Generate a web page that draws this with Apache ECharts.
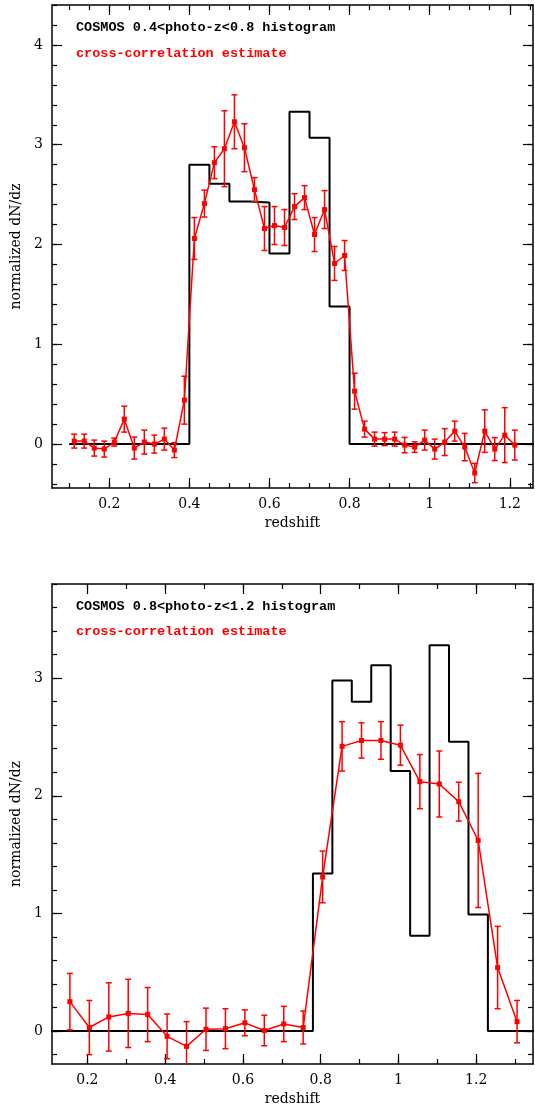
<!DOCTYPE html>
<html>
<head>
<meta charset="utf-8">
<script src="https://cdn.jsdelivr.net/npm/echarts@6/dist/echarts.min.js"></script>
<style>
  html, body { margin: 0; padding: 0; background: #ffffff; }
  #chart { width: 535px; height: 1107px; }
</style>
</head>
<body>
<div id="chart"></div>
<script>
// ---- Upper panel: COSMOS 0.4 < photo-z < 0.8 ----
const upperHistEdges  = [0.40, 0.45, 0.50, 0.55, 0.60, 0.65, 0.70, 0.75, 0.80];
const upperHistValues = [2.80, 2.61, 2.43, 2.42, 1.91, 3.33, 3.07, 1.38];
const upperHistSpan   = [0.10, 1.30];

const upperZ = [0.1125, 0.1375, 0.1625, 0.1875, 0.2125, 0.2375, 0.2625, 0.2875, 0.3125, 0.3375,
                0.3625, 0.3875, 0.4125, 0.4375, 0.4625, 0.4875, 0.5125, 0.5375, 0.5625, 0.5875,
                0.6125, 0.6375, 0.6625, 0.6875, 0.7125, 0.7375, 0.7625, 0.7875, 0.8125, 0.8375,
                0.8625, 0.8875, 0.9125, 0.9375, 0.9625, 0.9875, 1.0125, 1.0375, 1.0625, 1.0875,
                1.1125, 1.1375, 1.1625, 1.1875, 1.2125];
const upperDens = [0.03, 0.03, -0.04, -0.05, 0.02, 0.25, -0.04, 0.02, 0.00, 0.05,
                   -0.06, 0.44, 2.06, 2.41, 2.82, 2.96, 3.23, 2.97, 2.55, 2.16,
                   2.19, 2.17, 2.38, 2.47, 2.10, 2.35, 1.81, 1.89, 0.53, 0.15,
                   0.05, 0.05, 0.05, -0.01, -0.03, 0.04, -0.05, 0.02, 0.13, -0.03,
                   -0.29, 0.13, -0.05, 0.09, -0.01];
const upperErr = [0.07, 0.07, 0.08, 0.08, 0.04, 0.13, 0.11, 0.12, 0.09, 0.11,
                  0.075, 0.24, 0.21, 0.135, 0.16, 0.38, 0.27, 0.24, 0.12, 0.22,
                  0.19, 0.18, 0.13, 0.12, 0.17, 0.19, 0.17, 0.15, 0.18, 0.08,
                  0.07, 0.065, 0.07, 0.077, 0.053, 0.10, 0.10, 0.135, 0.10, 0.137,
                  0.097, 0.213, 0.115, 0.275, 0.15];

const upperXRange  = [0.057, 1.258];
const upperYRange  = [-0.44, 4.40];
const upperXMajor  = [0.2, 0.4, 0.6, 0.8, 1, 1.2];
const upperXMinor  = [0.10, 0.15, 0.20, 0.25, 0.30, 0.35, 0.40, 0.45, 0.50, 0.55, 0.60, 0.65,
                      0.70, 0.75, 0.80, 0.85, 0.90, 0.95, 1.00, 1.05, 1.10, 1.15, 1.20, 1.25];
const upperYMajor  = [0, 1, 2, 3, 4];
const upperYMinor  = [-0.4, -0.2, 0, 0.2, 0.4, 0.6, 0.8, 1.0, 1.2, 1.4, 1.6, 1.8, 2.0, 2.2,
                      2.4, 2.6, 2.8, 3.0, 3.2, 3.4, 3.6, 3.8, 4.0, 4.2, 4.4];
const upperLabel   = 'COSMOS 0.4<photo-z<0.8 histogram';

// ---- Lower panel: COSMOS 0.8 < photo-z < 1.2 ----
const lowerHistEdges  = [0.78, 0.83, 0.88, 0.93, 0.98, 1.03, 1.08, 1.13, 1.18, 1.23];
const lowerHistValues = [1.34, 2.98, 2.80, 3.11, 2.21, 0.81, 3.28, 2.46, 0.99];
const lowerHistSpan   = [0.10, 1.40];

const lowerZ = [0.155, 0.205, 0.255, 0.305, 0.355, 0.405, 0.455, 0.505, 0.555, 0.605, 0.655, 0.705,
                0.755, 0.805, 0.855, 0.905, 0.955, 1.005, 1.055, 1.105, 1.155, 1.205, 1.255, 1.305];
const lowerDens = [0.25, 0.03, 0.12, 0.15, 0.14, -0.045, -0.13, 0.015, 0.02, 0.07, 0.005, 0.06,
                   0.03, 1.31, 2.42, 2.47, 2.47, 2.43, 2.12, 2.10, 1.95, 1.62, 0.54, 0.08];
const lowerErr  = [0.24, 0.23, 0.29, 0.29, 0.23, 0.19, 0.21, 0.18, 0.17, 0.11, 0.13, 0.15,
                   0.14, 0.22, 0.21, 0.15, 0.16, 0.17, 0.23, 0.28, 0.165, 0.57, 0.35, 0.18];

const lowerXRange  = [0.109, 1.346];
const lowerYRange  = [-0.28, 3.80];
const lowerXMajor  = [0.2, 0.4, 0.6, 0.8, 1, 1.2];
const lowerXMinor  = [0.2, 0.3, 0.4, 0.5, 0.6, 0.7, 0.8, 0.9, 1.0, 1.1, 1.2, 1.3];
const lowerYMajor  = [0, 1, 2, 3];
const lowerYMinor  = [-0.2, 0, 0.2, 0.4, 0.6, 0.8, 1.0, 1.2, 1.4, 1.6, 1.8, 2.0, 2.2, 2.4,
                      2.6, 2.8, 3.0, 3.2, 3.4, 3.6, 3.8];
const lowerLabel   = 'COSMOS 0.8<photo-z<1.2 histogram';

const estimateLabel = 'cross-correlation estimate';
const xTitle = 'redshift';
const yTitle = 'normalized dN/dz';

// ---- styling ----
const RED = '#ff0000';
const INK = '#000000';
const SERIF = '"DejaVu Serif", "Liberation Serif", serif';
const MONO = '"Liberation Mono", "DejaVu Sans Mono", monospace';
const FRAME_W = 1.5;
const MAJOR_LEN = 10;
const MINOR_LEN = 5;

const panels = [
  { top: 5,   histEdges: upperHistEdges, histValues: upperHistValues, histSpan: upperHistSpan,
    z: upperZ, dens: upperDens, err: upperErr, xRange: upperXRange, yRange: upperYRange,
    xMajor: upperXMajor, xMinor: upperXMinor, yMajor: upperYMajor, yMinor: upperYMinor,
    label: upperLabel, labelY: [28, 54] },
  { top: 584, histEdges: lowerHistEdges, histValues: lowerHistValues, histSpan: lowerHistSpan,
    z: lowerZ, dens: lowerDens, err: lowerErr, xRange: lowerXRange, yRange: lowerYRange,
    xMajor: lowerXMajor, xMinor: lowerXMinor, yMajor: lowerYMajor, yMinor: lowerYMinor,
    label: lowerLabel, labelY: [607, 632] }
];

// Step outline of a histogram: zero level, then each bin as a flat top.
function histogramOutline(edges, values, span) {
  const pts = [[span[0], 0], [edges[0], 0]];
  values.forEach((v, i) => {
    pts.push([edges[i], v]);
    pts.push([edges[i + 1], v]);
  });
  pts.push([edges[edges.length - 1], 0]);
  pts.push([span[1], 0]);
  return pts;
}

const grids = [], xAxes = [], yAxes = [], series = [], graphics = [];

panels.forEach((p, gi) => {
  grids.push({ left: 52, top: p.top, width: 481, height: 483, containLabel: false });

  const lineStyle = { color: INK, width: FRAME_W };
  const tickStyle = { color: INK, width: 1.2 };
  const xBase = { gridIndex: gi, type: 'value', min: p.xRange[0], max: p.xRange[1],
                  splitLine: { show: false } };
  const yBase = { gridIndex: gi, type: 'value', min: p.yRange[0], max: p.yRange[1],
                  splitLine: { show: false } };
  const xStart = xAxes.length, yStart = yAxes.length;

  // bottom: frame, major ticks, labels, title
  xAxes.push(Object.assign({}, xBase, {
    position: 'bottom',
    axisLine: { show: true, onZero: false, lineStyle },
    axisTick: { show: true, inside: true, length: MAJOR_LEN, customValues: p.xMajor, lineStyle: tickStyle },
    axisLabel: { show: true, customValues: p.xMajor, margin: 9, color: INK,
                 fontFamily: SERIF, fontSize: 14 },
    name: xTitle, nameLocation: 'middle', nameGap: 28,
    nameTextStyle: { color: INK, fontFamily: SERIF, fontSize: 14 }
  }));
  // top: frame, major ticks
  xAxes.push(Object.assign({}, xBase, {
    position: 'top',
    axisLine: { show: true, onZero: false, lineStyle },
    axisTick: { show: true, inside: true, length: MAJOR_LEN, customValues: p.xMajor, lineStyle: tickStyle },
    axisLabel: { show: false }
  }));
  // minor ticks, bottom and top
  ['bottom', 'top'].forEach(pos => xAxes.push(Object.assign({}, xBase, {
    position: pos,
    axisLine: { show: false, onZero: false },
    axisTick: { show: true, inside: true, length: MINOR_LEN, customValues: p.xMinor, lineStyle: tickStyle },
    axisLabel: { show: false }
  })));

  // left: frame, major ticks, labels, title
  yAxes.push(Object.assign({}, yBase, {
    position: 'left',
    axisLine: { show: true, onZero: false, lineStyle },
    axisTick: { show: true, inside: true, length: MAJOR_LEN, customValues: p.yMajor, lineStyle: tickStyle },
    axisLabel: { show: true, customValues: p.yMajor, margin: 9, color: INK,
                 fontFamily: SERIF, fontSize: 14 },
    name: yTitle, nameLocation: 'middle', nameGap: 27,
    nameTextStyle: { color: INK, fontFamily: SERIF, fontSize: 14 }
  }));
  // right: frame, major ticks
  yAxes.push(Object.assign({}, yBase, {
    position: 'right',
    axisLine: { show: true, onZero: false, lineStyle },
    axisTick: { show: true, inside: true, length: MAJOR_LEN, customValues: p.yMajor, lineStyle: tickStyle },
    axisLabel: { show: false }
  }));
  ['left', 'right'].forEach(pos => yAxes.push(Object.assign({}, yBase, {
    position: pos,
    axisLine: { show: false, onZero: false },
    axisTick: { show: true, inside: true, length: MINOR_LEN, customValues: p.yMinor, lineStyle: tickStyle },
    axisLabel: { show: false }
  })));

  // photo-z histogram
  series.push({
    type: 'line', xAxisIndex: xStart, yAxisIndex: yStart,
    data: histogramOutline(p.histEdges, p.histValues, p.histSpan),
    symbol: 'none', clip: true, z: 2,
    lineStyle: { color: INK, width: 2 }, silent: true
  });

  // cross-correlation error bars
  series.push({
    type: 'custom', xAxisIndex: xStart, yAxisIndex: yStart, clip: true, z: 3, silent: true,
    data: p.z.map((z, i) => [z, p.dens[i] - p.err[i], p.dens[i] + p.err[i]]),
    encode: { x: 0, y: [1, 2] },
    renderItem(params, api) {
      const lo = api.coord([api.value(0), api.value(1)]);
      const hi = api.coord([api.value(0), api.value(2)]);
      const w = 3;
      const style = { stroke: RED, lineWidth: 1.5, fill: null };
      return { type: 'group', children: [
        { type: 'line', shape: { x1: lo[0], y1: lo[1], x2: hi[0], y2: hi[1] }, style },
        { type: 'line', shape: { x1: lo[0] - w, y1: lo[1], x2: lo[0] + w, y2: lo[1] }, style },
        { type: 'line', shape: { x1: hi[0] - w, y1: hi[1], x2: hi[0] + w, y2: hi[1] }, style }
      ] };
    }
  });

  // cross-correlation estimate
  series.push({
    type: 'line', xAxisIndex: xStart, yAxisIndex: yStart,
    data: p.z.map((z, i) => [z, p.dens[i]]),
    symbol: 'rect', symbolSize: 5, clip: true, z: 4, silent: true,
    itemStyle: { color: RED }, lineStyle: { color: RED, width: 1.5 }
  });

  // in-panel legend text
  graphics.push({ type: 'text', x: 76, y: p.labelY[0],
    style: { text: p.label, fill: INK, font: 'bold 13.5px ' + MONO, verticalAlign: 'middle' } });
  graphics.push({ type: 'text', x: 76, y: p.labelY[1],
    style: { text: estimateLabel, fill: RED, font: 'bold 13.5px ' + MONO, verticalAlign: 'middle' } });
});

const chart = echarts.init(document.getElementById('chart'), null, { renderer: 'canvas' });
chart.setOption({
  animation: false,
  backgroundColor: '#ffffff',
  grid: grids,
  xAxis: xAxes,
  yAxis: yAxes,
  series: series,
  graphic: graphics
});
</script>
</body>
</html>
